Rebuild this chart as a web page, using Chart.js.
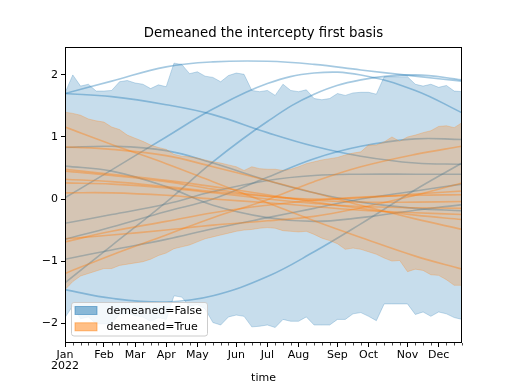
<!DOCTYPE html>
<html>
<head>
<meta charset="utf-8">
<script src="https://cdn.jsdelivr.net/npm/chart.js@4/dist/chart.umd.min.js"></script>
<style>
	html, body { margin: 0; padding: 0; background: #fff; }
	#wrap { width: 512px; height: 384px; }
</style>
</head>
<body>
<div id="wrap"><canvas id="myChart" width="512" height="384"></canvas></div>
<script>
// weekly periods of 2022, x axis is the week number
const weeks = Array.from({ length: 52 }, (_, i) => i);
const monthWeeks = [0, 5, 9, 13, 17, 22, 26, 30, 35, 39, 44, 48];
const monthLabels = [["Jan", "2022"], "Feb", "Mar", "Apr", "May", "Jun", "Jul", "Aug", "Sep", "Oct", "Nov", "Dec"];
const yTicks = [-2, -1, 0, 1, 2];
const legendLabels = ["demeaned=False", "demeaned=True"];
const chartTitle = "Demeaned the intercepty first basis";

// bands (one value per week)
const blueUpper = [1.71, 2.00, 1.82, 1.85, 1.74, 1.74, 1.75, 1.89, 1.91, 1.87,
	1.85, 1.78, 1.84, 1.81, 2.19, 2.17, 2.02, 2.05, 1.98, 1.96,
	1.89, 1.99, 2.03, 2.01, 1.75, 1.73, 1.75, 1.67, 1.85, 1.75,
	1.73, 1.76, 1.62, 1.60, 1.62, 1.70, 1.67, 1.71, 1.72, 1.72,
	1.69, 1.97, 1.97, 1.97, 1.97, 1.85, 1.82, 1.85, 1.80, 1.83,
	1.74, 1.73];
const blueLower = [-1.91, -1.72, -1.93, -1.90, -2.01, -2.01, -2.00, -1.86, -1.84, -1.88,
	-1.90, -1.97, -1.91, -1.94, -1.56, -1.58, -1.73, -1.70, -1.77, -1.99,
	-2.03, -1.90, -1.87, -1.89, -2.06, -2.05, -2.03, -2.07, -1.94, -1.97,
	-1.97, -1.90, -2.03, -2.03, -2.03, -1.94, -1.94, -1.85, -1.83, -1.89,
	-1.96, -1.69, -1.69, -1.69, -1.69, -1.86, -1.82, -1.89, -1.82, -1.85,
	-1.91, -1.94];
const orangeUpper = [1.40, 1.38, 1.35, 1.29, 1.26, 1.24, 1.16, 1.12, 1.03, 0.98,
	0.93, 0.87, 0.83, 0.80, 0.72, 0.69, 0.68, 0.66, 0.63, 0.60,
	0.58, 0.55, 0.52, 0.46, 0.52, 0.49, 0.48, 0.48, 0.46, 0.48,
	0.52, 0.57, 0.60, 0.63, 0.65, 0.67, 0.71, 0.74, 0.76, 0.87,
	0.87, 0.92, 1.00, 0.93, 1.00, 1.03, 1.07, 1.10, 1.17, 1.18,
	1.15, 1.23];
const orangeLower = [-1.46, -1.33, -1.24, -1.20, -1.16, -1.12, -1.12, -1.07, -1.05, -1.03,
	-1.01, -0.97, -0.91, -0.87, -0.80, -0.77, -0.74, -0.69, -0.64, -0.61,
	-0.58, -0.55, -0.52, -0.50, -0.49, -0.47, -0.46, -0.47, -0.51, -0.52,
	-0.53, -0.52, -0.57, -0.63, -0.67, -0.72, -0.81, -0.79, -0.81, -0.85,
	-0.89, -0.95, -1.00, -0.99, -1.17, -1.13, -1.15, -1.22, -1.23, -1.30,
	-1.39, -1.39];

// sample curves, read at these weeks
const lineWeeks = [0, 6, 13, 19, 26, 32, 38, 45, 51];
const blueLines = [
	[1.70, 1.90, 2.13, 2.21, 2.22, 2.17, 2.08, 1.98, 1.90],
	[0.02, 0.47, 1.00, 1.45, 1.86, 2.03, 2.00, 1.75, 1.39],
	[-1.35, -0.75, -0.05, 0.60, 1.25, 1.69, 1.92, 2.00, 1.92],
	[1.70, 1.65, 1.52, 1.36, 1.07, 0.85, 0.69, 0.58, 0.56],
	[-1.46, -1.60, -1.66, -1.56, -1.25, -0.85, -0.40, 0.15, 0.58],
	[0.83, 0.85, 0.78, 0.58, 0.30, 0.10, -0.05, -0.15, -0.19],
	[0.53, 0.45, 0.20, -0.10, -0.30, -0.36, -0.30, -0.18, -0.09],
	[-0.39, -0.25, -0.08, 0.12, 0.30, 0.38, 0.40, 0.40, 0.40],
	[-0.65, -0.45, -0.20, 0.00, 0.35, 0.65, 0.85, 0.97, 0.96],
	[-0.97, -0.82, -0.65, -0.48, -0.30, -0.15, 0.00, 0.13, 0.24]
];
const orangeLines = [
	[1.16, 0.88, 0.57, 0.28, -0.06, -0.35, -0.62, -0.92, -1.13],
	[0.84, 0.80, 0.70, 0.52, 0.30, 0.10, -0.10, -0.32, -0.49],
	[-1.20, -0.90, -0.58, -0.30, -0.01, 0.28, 0.52, 0.72, 0.85],
	[-0.64, -0.58, -0.50, -0.42, -0.35, -0.28, -0.14, 0.06, 0.26],
	[-0.69, -0.52, -0.36, -0.22, -0.10, -0.02, 0.03, 0.06, 0.07],
	[0.48, 0.40, 0.30, 0.20, 0.07, -0.05, -0.15, -0.26, -0.33],
	[0.45, 0.38, 0.28, 0.16, 0.05, 0.00, 0.02, 0.08, 0.13],
	[0.26, 0.24, 0.18, 0.10, 0.00, -0.07, -0.12, -0.14, -0.15],
	[0.10, 0.10, 0.06, 0.00, -0.06, -0.12, -0.18, -0.22, -0.25],
	[0.32, 0.28, 0.20, 0.12, 0.04, -0.02, -0.05, -0.05, -0.04]
];

const BLUE = "31,119,180";
const ORANGE = "255,127,14";
const FONT = "DejaVu Sans";

function pts(xs, ys) {
	return xs.map((x, i) => ({ x: x, y: ys[i] }));
}

function band(upper, lower, rgb, order) {
	return [
		{ data: pts(weeks, upper), borderColor: `rgba(${rgb},0.25)`, borderWidth: 1,
			backgroundColor: `rgba(${rgb},0.25)`, fill: "+1", tension: 0, order: order },
		{ data: pts(weeks, lower), borderColor: `rgba(${rgb},0.25)`, borderWidth: 1,
			fill: false, tension: 0, order: order }
	];
}

function curves(list, rgb, order) {
	return list.map(vals => ({
		data: pts(lineWeeks, vals),
		borderColor: `rgba(${rgb},0.4)`,
		borderWidth: 1.6,
		fill: false,
		tension: 0.4,
		order: order
	}));
}

const datasets = [].concat(
	band(blueUpper, blueLower, BLUE, 40),
	curves(blueLines, BLUE, 30),
	band(orangeUpper, orangeLower, ORANGE, 20),
	curves(orangeLines, ORANGE, 10)
);

// title over the axes, minor ticks, spines and the legend box
const decorations = {
	id: "decorations",
	afterDraw(chart) {
		const { ctx, chartArea: a, scales: { x } } = chart;
		ctx.save();
		ctx.fillStyle = "#000";
		ctx.font = `13.3px '${FONT}'`;
		ctx.textAlign = "center";
		ctx.textBaseline = "middle";
		ctx.fillText(chartTitle, (a.left + a.right) / 2, 34);

		ctx.strokeStyle = "#000";
		ctx.lineWidth = 0.7;
		ctx.beginPath();
		weeks.forEach(w => {
			if (monthWeeks.includes(w)) return;
			const px = Math.round(x.getPixelForValue(w)) + 0.5;
			ctx.moveTo(px, a.bottom);
			ctx.lineTo(px, a.bottom + 2.5);
		});
		ctx.stroke();

		ctx.lineWidth = 1;
		ctx.strokeRect(Math.round(a.left) + 0.5, Math.round(a.top) + 0.5,
			Math.round(a.right - a.left) - 1, Math.round(a.bottom - a.top) - 1);

		// legend, lower left
		const lx = a.left + 6.5, ly = a.bottom - 40.5;
		ctx.beginPath();
		ctx.roundRect(lx, ly, 136, 33.5, 2.5);
		ctx.fillStyle = "rgba(255,255,255,0.8)";
		ctx.fill();
		ctx.strokeStyle = "#cccccc";
		ctx.stroke();
		ctx.textAlign = "left";
		[BLUE, ORANGE].forEach((rgb, i) => {
			const py = ly + 4 + i * 16.3;
			ctx.fillStyle = `rgba(${rgb},0.5)`;
			ctx.fillRect(lx + 3.5, py, 22, 8);
			ctx.strokeStyle = `rgba(${rgb},0.5)`;
			ctx.strokeRect(lx + 3.5, py, 22, 8);
			ctx.fillStyle = "#000";
			ctx.font = `11px '${FONT}'`;
			ctx.fillText(legendLabels[i], lx + 35, py + 4.5);
		});
		ctx.restore();
	}
};

Chart.defaults.color = "#000";
Chart.defaults.font.family = FONT;

new Chart("myChart", {
	type: "line",
	data: { datasets: datasets },
	options: {
		responsive: false,
		animation: false,
		events: [],
		elements: { point: { radius: 0 } },
		layout: { padding: { left: 0, right: 50, top: 47, bottom: 0 } },
		plugins: {
			legend: { display: false },
			tooltip: { enabled: false },
			title: { display: false }
		},
		scales: {
			x: {
				type: "linear",
				min: 0,
				max: 51,
				afterBuildTicks: s => { s.ticks = monthWeeks.map(v => ({ value: v })); },
				afterFit: s => { s.height = 41; },
				ticks: {
					autoSkip: false,
					maxRotation: 0,
					padding: 2,
					font: { size: 11, lineHeight: 1.05 },
					callback: (v) => monthLabels[monthWeeks.indexOf(v)]
				},
				grid: { drawOnChartArea: false, tickLength: 4, tickColor: "#000", tickWidth: 1 },
				border: { display: false },
				title: { display: true, text: "time", font: { size: 11, lineHeight: 1 }, padding: 0 }
			},
			y: {
				min: -2.32,
				max: 2.45,
				afterBuildTicks: s => { s.ticks = yTicks.map(v => ({ value: v })); },
				afterFit: s => { s.width = 65; },
				ticks: {
					padding: 3,
					font: { size: 11 },
					callback: (v) => (v < 0 ? "\u2212" + Math.abs(v) : String(v))
				},
				grid: { drawOnChartArea: false, tickLength: 4, tickColor: "#000", tickWidth: 1 },
				border: { display: false }
			}
		}
	},
	plugins: [decorations]
});
</script>
</body>
</html>
